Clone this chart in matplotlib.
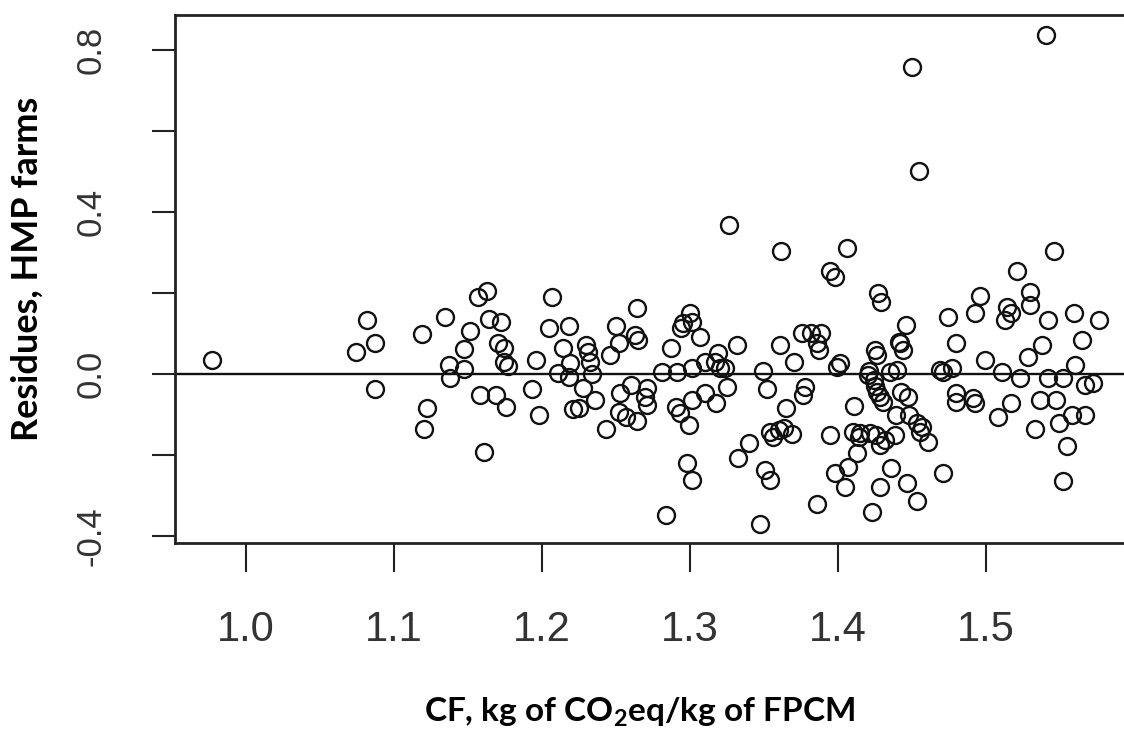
import matplotlib
matplotlib.use("Agg")
from matplotlib import pyplot as plt

# CF (kg CO2eq/kg FPCM) and model residues
cf = [
    0.977, 1.0815, 1.074, 1.087, 1.087, 1.119, 1.122, 1.120, 1.1345, 1.137,
    1.138, 1.147, 1.151, 1.147, 1.157, 1.163, 1.164, 1.172, 1.158, 1.169,
    1.1755, 1.161, 1.1705, 1.174, 1.174, 1.177, 1.196, 1.193, 1.198, 1.207,
    1.205, 1.218, 1.214, 1.211, 1.219, 1.218, 1.230, 1.231, 1.2336, 1.2325,
    1.228, 1.236, 1.225, 1.221, 1.243, 1.250, 1.252, 1.246, 1.253, 1.252,
    1.257, 1.264, 1.263, 1.265, 1.260, 1.271, 1.264, 1.2696, 1.2707,
    1.287, 1.281, 1.291, 1.284, 1.2905, 1.293, 1.2955, 1.294, 1.300, 1.301,
    1.301, 1.2995, 1.298, 1.301, 1.301, 1.307, 1.310, 1.310, 1.3176, 1.319,
    1.317, 1.320, 1.3236, 1.325, 1.326, 1.3315, 1.3326, 1.340, 1.347, 1.349,
    1.352, 1.3507, 1.354, 1.354, 1.356, 1.3615, 1.361, 1.365, 1.360, 1.3635,
    1.369, 1.370, 1.3755, 1.378, 1.376, 1.382, 1.386, 1.3885, 1.387, 1.386,
    1.3946, 1.398, 1.3946, 1.399, 1.401, 1.398, 1.406, 1.405, 1.407, 1.411,
    1.410, 1.414, 1.415, 1.4216, 1.4257, 1.4126, 1.420, 1.421, 1.424, 1.425,
    1.4266, 1.4284, 1.4307, 1.425, 1.426, 1.427, 1.429, 1.4232, 1.4284, 1.4284,
    1.4318, 1.435, 1.4396, 1.4358, 1.4385, 1.4392, 1.442, 1.444, 1.441, 1.446,
    1.4424, 1.4475, 1.4464, 1.4482, 1.4532, 1.4566, 1.4554, 1.4532, 1.450, 1.455,
    1.4606, 1.4712, 1.469, 1.471, 1.477, 1.4746, 1.4797, 1.480, 1.4797, 1.4914,
    1.4926, 1.4926, 1.496, 1.4993,
    1.5083, 1.5106, 1.517, 1.514, 1.517, 1.5125, 1.523, 1.528, 1.5297, 1.5297,
    1.533, 1.5365, 1.538, 1.542, 1.542, 1.5403, 1.5457, 1.5207, 1.547, 1.549,
    1.5545, 1.552, 1.552, 1.558, 1.567, 1.560, 1.5595, 1.565, 1.567, 1.5725,
    1.576,
]
residues = [
    0.035, 0.134, 0.056, 0.078, -0.036, 0.0995, -0.084, -0.136, 0.141, 0.023,
    -0.008, 0.0625, 0.107, 0.012, 0.192, 0.206, 0.136, 0.128, -0.051, -0.051,
    -0.080, -0.193, 0.078, 0.064, 0.031, 0.0205, 0.035, -0.036, -0.1005, 0.192,
    0.114, 0.120, 0.064, 0.0025, 0.029, -0.006, 0.072, 0.056, 0.0, 0.03,
    -0.035, -0.0635, -0.0825, -0.086, -0.136, 0.120, 0.078, 0.048, -0.045, -0.092,
    -0.105, 0.163, 0.097, 0.085, -0.026, -0.035, -0.115, -0.055, -0.076,
    0.064, 0.0065, 0.0065, -0.347, -0.080, -0.095, 0.126, 0.114, 0.151, 0.130,
    0.015, -0.125, -0.218, -0.261, -0.0635, 0.093, 0.031, -0.047, -0.072, 0.053,
    0.031, 0.015, 0.015, -0.031, 0.369, 0.072, -0.207, -0.170, -0.370, 0.009,
    -0.036, -0.236, -0.261, -0.142, -0.154, 0.305, 0.072, -0.084, -0.1375, -0.133,
    -0.147, 0.031, 0.103, -0.031, -0.051, 0.101, 0.0765, 0.103, 0.060, -0.320,
    0.256, 0.241, -0.150, 0.017, 0.027, -0.243, 0.313, -0.2775, -0.230, -0.078,
    -0.142, -0.154, -0.146, -0.146, -0.150, -0.195, -0.002, 0.009, -0.014, -0.029,
    -0.043, -0.055, -0.068, 0.060, 0.048, 0.200, 0.178, -0.339, -0.2775, -0.175,
    -0.162, 0.0065, 0.0106, -0.232, -0.150, -0.1005, 0.0765, 0.060, 0.0805, 0.122,
    -0.043, -0.055, -0.269, -0.1005, -0.121, -0.129, -0.142, -0.312, 0.7595, 0.503,
    -0.166, -0.243, 0.0106, 0.0065, 0.015, 0.142, 0.078, -0.047, -0.068, -0.059,
    -0.072, 0.1506, 0.193, 0.035,
    -0.105, 0.0065, -0.072, 0.167, 0.1506, 0.134, -0.008, 0.043, 0.204, 0.171,
    -0.136, -0.0635, 0.072, -0.010, 0.134, 0.838, 0.305, 0.256, -0.0635, -0.121,
    -0.178, -0.2635, -0.010, -0.100, -0.1005, 0.023, 0.1506, 0.085, -0.026, -0.022,
    0.134,
]

x_ticks = [1.0, 1.1, 1.2, 1.3, 1.4, 1.5]
y_ticks = [-0.4, -0.2, 0.0, 0.2, 0.4, 0.6, 0.8]
y_tick_labels = ["-0.4", "", "0.0", "", "0.4", "", "0.8"]

plt.rcParams["mathtext.fontset"] = "custom"
plt.rcParams["mathtext.rm"] = "Lato:bold"
plt.rcParams["mathtext.it"] = "Lato:bold"
plt.rcParams["mathtext.bf"] = "Lato:bold"

fig = plt.figure(figsize=(11.24, 7.29), dpi=100)
ax = fig.add_axes([175 / 1124, 186 / 729, 949 / 1124, 528 / 729])

ax.plot(cf, residues, linestyle="none", marker="o", markersize=12.2,
        markerfacecolor="none", markeredgecolor="#111111", markeredgewidth=1.7)
ax.axhline(0, color="#111111", linewidth=1.7)

ax.set_xlim(0.952, 1.5932)
ax.set_ylim(-0.4165, 0.887)

ax.spines["right"].set_visible(False)
for side in ["left", "top", "bottom"]:
    ax.spines[side].set_linewidth(2.0)
    ax.spines[side].set_color("#222222")

ax.set_xticks(x_ticks)
ax.set_xticklabels([f"{t:.1f}" for t in x_ticks], family="Liberation Sans",
                   fontsize=30, color="#333333")
ax.set_yticks(y_ticks)
ax.set_yticklabels(y_tick_labels, rotation=90, va="center",
                   family="Liberation Sans", fontsize=25, color="#333333")
ax.tick_params(axis="x", length=21, width=1.5, pad=27, color="#222222")
ax.tick_params(axis="y", length=16.5, width=1.5, pad=32, color="#222222")

ax.set_xlabel(r"CF, kg of CO$_{\mathrm{2}}$eq/kg of FPCM", family="Lato",
              fontweight="bold", fontsize=24, va="center")
ax.xaxis.set_label_coords(0.489, -0.32)
ax.set_ylabel("Residues, HMP farms", family="Lato", fontweight="bold",
              fontsize=26, va="center")
ax.yaxis.set_label_coords(-0.156, 0.52)

fig.savefig("out.png", dpi=100)
